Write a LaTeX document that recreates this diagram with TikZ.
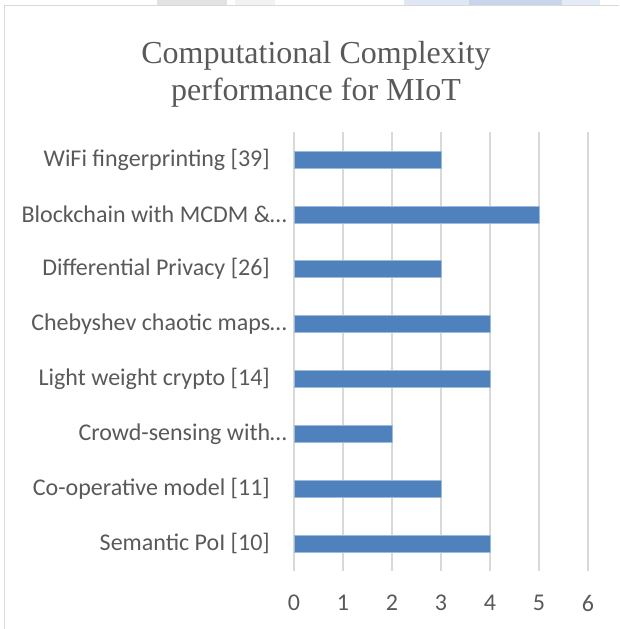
\documentclass[tikz,border=0pt]{standalone}
\usepackage{fontspec}
\setmainfont{Carlito}
\newfontfamily\titlefont{Liberation Serif}
\definecolor{barblue}{HTML}{4F81BD}
\definecolor{gridgray}{HTML}{D9D9D9}
\definecolor{textgray}{HTML}{595959}
\definecolor{markblue}{HTML}{C9D5EC}
\begin{document}
\begin{tikzpicture}[x=1pt,y=-1pt,
  bar/.style={fill=barblue,draw=barblue!55!white,line width=0.6pt},
  gridline/.style={gridgray,line width=1.5pt},
  catlabel/.style={anchor=east,inner sep=0pt,text=textgray,font=\fontsize{24}{28}\selectfont},
  ticklabel/.style={inner sep=0pt,text=textgray,font=\fontsize{24}{28}\selectfont}]
  \useasboundingbox (0,0) rectangle (619,629);
  % bits of the page behind the chart
  \fill[gray!22] (157,0) rectangle (227,5);
  \fill[gray!10] (235,0) rectangle (275,5);
  \fill[markblue!60] (404,0) rectangle (469,5);
  \fill[markblue] (469,0) rectangle (562,5);
  \fill[markblue!50] (562,0) rectangle (600,5);
  % chart frame
  \coordinate (F1) at (4.5,629);
  \coordinate (F2) at (4.5,5.5);
  \coordinate (F3) at (619,5.5);
  \draw[gridgray,line width=1.2pt] (F1) -- (F2) -- (F3);
  \node[font=\titlefont\fontsize{32}{37}\selectfont,text=textgray,align=center,inner sep=0pt] (title) at (316,74)
    {Computational Complexity\\performance for MIoT};
  % grid and axis values
  \foreach \v in {0,...,6} {
    \draw[gridline] (294+49*\v,132) -- (294+49*\v,571);
    \node[ticklabel] (tick\v) at (294+49*\v,603) {\v};
  }
  % bars, top to bottom
  \foreach \i/\val/\xr/\lab in {0/3/270/WiFi fingerprinting [39],
      1/5/287/Blockchain with MCDM \&…,
      2/3/270/Differential Privacy [26],
      3/4/287/Chebyshev chaotic maps…,
      4/4/270/Light weight crypto [14],
      5/2/287/Crowd-sensing with…,
      6/3/270/Co-operative model [11],
      7/4/270/Semantic PoI [10]} {
    \draw[bar] (294,151+54.86*\i) rectangle ++(49*\val,17);
    \node[catlabel] (cat\i) at (\xr,159.5+54.86*\i) {\lab};
  }
\end{tikzpicture}
\end{document}
